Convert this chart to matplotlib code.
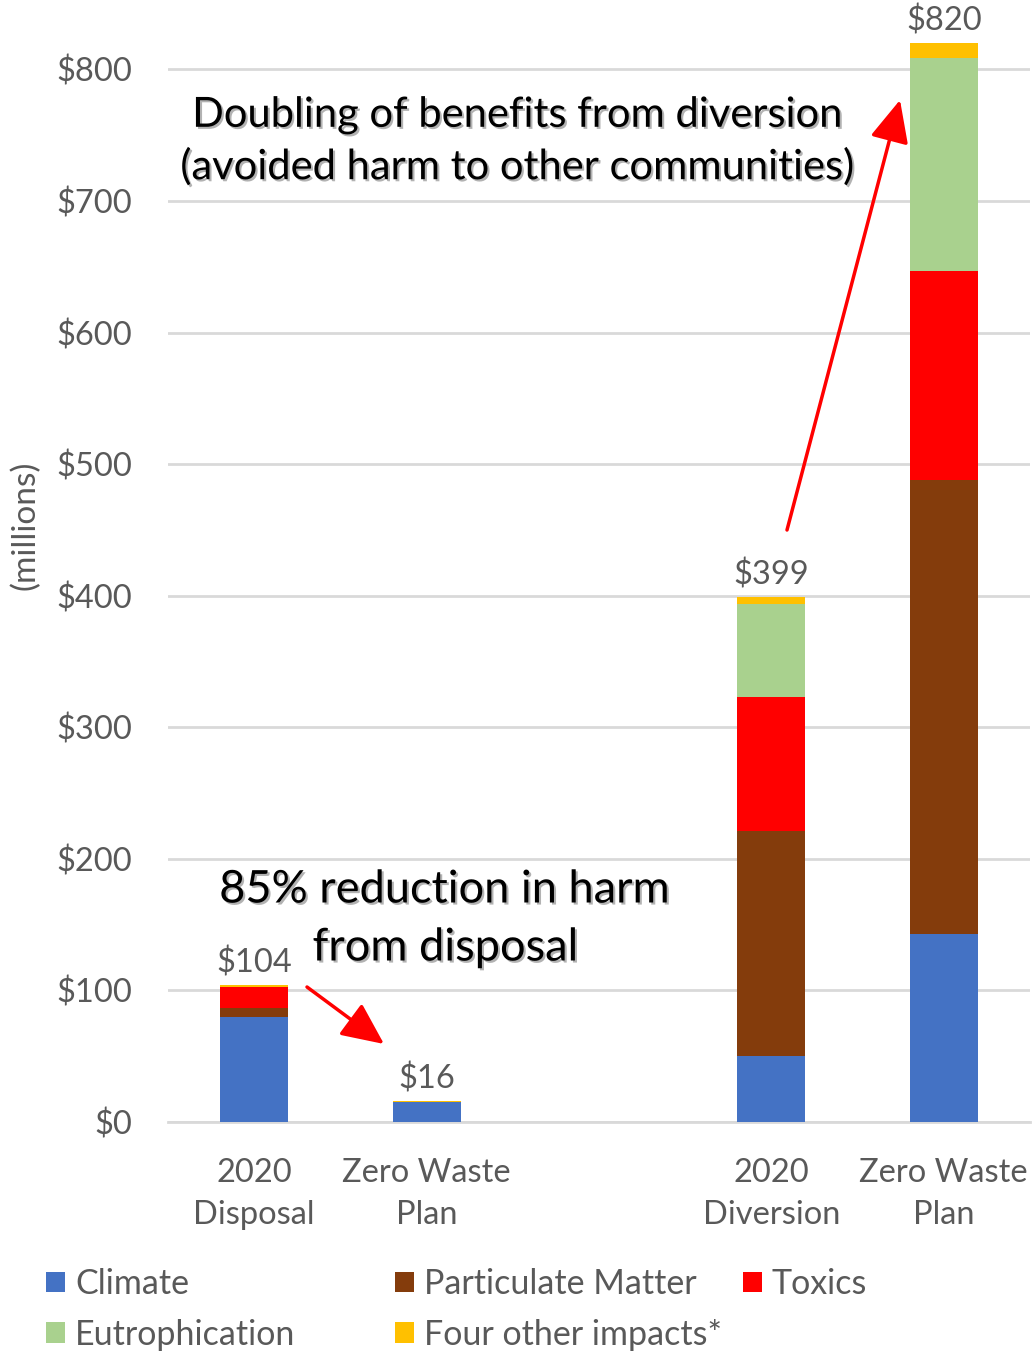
import matplotlib.pyplot as plt
import matplotlib.patheffects as pe
from matplotlib.patches import FancyArrowPatch
import numpy as np

categories = ["2020\nDisposal", "Zero Waste\nPlan", "", "2020\nDiversion", "Zero Waste\nPlan"]
series_names = ["Climate", "Particulate Matter", "Toxics", "Eutrophication", "Four other impacts*"]
colors = ["#4472c4", "#843c0c", "#ff0000", "#a9d18e", "#ffc000"]

climate = [80, 15, 0, 50, 143]
particulate = [6.5, 0, 0, 171, 345]
toxics = [16, 0, 0, 102, 159]
eutrophication = [0, 0, 0, 71, 162]
four_other = [1.5, 1, 0, 5, 11]
totals = ["$104", "$16", "", "$399", "$820"]

yticks = [0, 100, 200, 300, 400, 500, 600, 700, 800]

plt.rcParams['font.family'] = ['Lato', 'DejaVu Sans']
grey = "#595959"

fig = plt.figure(figsize=(10.34, 13.51), dpi=100)
ax = fig.add_axes([168 / 1034, (1351 - 1122) / 1351, (1030 - 168) / 1034, (1122 - 30) / 1351])

x = np.arange(len(categories))
data = [climate, particulate, toxics, eutrophication, four_other]
bottom = np.zeros(len(categories))
bars = []
for vals, name, col in zip(data, series_names, colors):
    b = ax.bar(x, vals, 0.394, bottom=bottom, color=col, label=name, zorder=3)
    bars.append(b)
    bottom += np.array(vals)

for xi, top, lab in zip(x, bottom, totals):
    if lab:
        ax.text(xi, top + 5, lab, ha="center", va="bottom", fontsize=23.5, color=grey)

ax.set_xlim(-0.5, 4.5)
ax.set_ylim(0, 830)
ax.set_yticks(yticks)
ax.set_yticklabels([f"${v}" for v in yticks], fontsize=23.5, color=grey)
ax.set_xticks(x)
ax.set_xticklabels(categories, fontsize=23.5, color=grey, linespacing=1.5)
ax.tick_params(length=0)
ax.tick_params(axis="x", pad=26)
ax.tick_params(axis="y", pad=26)
ax.grid(axis="y", color="#d9d9d9", linewidth=2, zorder=0)
for s in ["top", "right", "left"]:
    ax.spines[s].set_visible(False)
ax.spines["bottom"].set_color("#d9d9d9")
ax.spines["bottom"].set_linewidth(2)

fig.text(25 / 1034, 1 - 525 / 1351, "(millions)", rotation=90, ha="center", va="center",
         fontsize=24, color=grey)

shadow = [pe.withSimplePatchShadow(offset=(1.5, -1.5), shadow_rgbFace="#7f7f7f", alpha=0.6)]
fig.text(517 / 1034, 1 - 141 / 1351,
         "Doubling of benefits from diversion\n(avoided harm to other communities)",
         ha="center", va="center", fontsize=30, color="black", linespacing=1.4,
         path_effects=shadow)
fig.text(444 / 1034, 1 - 890 / 1351, "85% reduction in harm",
         ha="center", va="center", fontsize=32.5, color="black", path_effects=shadow)
fig.text(445 / 1034, 1 - 948 / 1351, "from disposal",
         ha="center", va="center", fontsize=32.5, color="black", path_effects=shadow)

arrow = dict(arrowstyle="-|>,head_length=1.3,head_width=0.6", color="red", lw=2.5,
             shrinkA=0, shrinkB=0, mutation_scale=20, transform=fig.transFigure)
fig.patches.append(FancyArrowPatch((787 / 1034, 1 - 530 / 1351), (900 / 1034, 1 - 100 / 1351), **arrow))
fig.patches.append(FancyArrowPatch((307 / 1034, 1 - 987 / 1351), (384 / 1034, 1 - 1044 / 1351), **arrow))

# legend laid out in three fixed columns, like the original
legend_cols = [([0, 3], 46), ([1, 4], 395), ([2], 743)]
for idx, xpix in legend_cols:
    fig.legend([bars[i] for i in idx], [series_names[i] for i in idx],
               loc="upper left", bbox_to_anchor=(xpix / 1034, 1 - 1268 / 1351), frameon=False,
               borderpad=0, borderaxespad=0, fontsize=24.5, labelcolor=grey,
               handlelength=0.55, handleheight=0.55, handletextpad=0.3, labelspacing=0.55)

fig.savefig("out.png", dpi=100)
